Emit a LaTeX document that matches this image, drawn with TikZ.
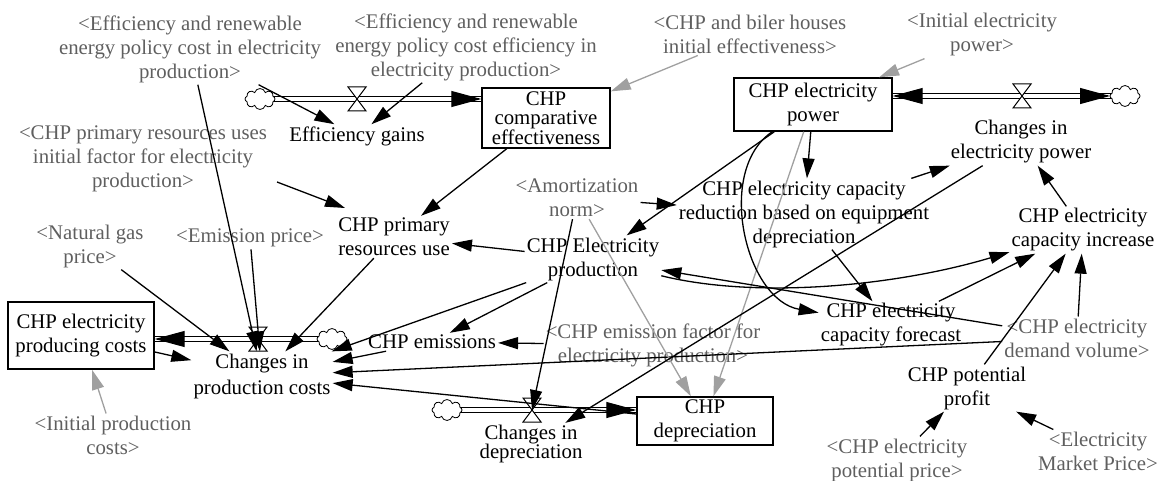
\documentclass[tikz,border=0pt]{standalone}
\usepackage{fontspec}
\setmainfont{Liberation Serif}
\usetikzlibrary{arrows.meta,calc,shapes.symbols}
\definecolor{tgray}{RGB}{95,95,95}
\definecolor{lgray}{RGB}{160,160,160}
\begin{document}
\begin{tikzpicture}[x=1pt,y=-1pt,
  every node/.style={font=\fontsize{20.8}{24}\selectfont, align=center, inner sep=2pt},
  var/.style={text=black},
  shadow/.style={text=tgray},
  stock/.style={draw, line width=1.4pt, inner sep=0pt},
  arr/.style={line width=1.3pt, -{Triangle[length=20pt,width=12pt]}},
  garr/.style={line width=1.3pt, color=lgray, -{Triangle[length=20pt,width=12pt]}},
  pipe/.style={double=white, double distance=4pt, line width=1.3pt},
  pipetip/.style={-{Triangle[length=30pt,width=16pt]}, line width=1pt},
  cloudn/.style={cloud, draw, fill=white, cloud puffs=8, aspect=1.5, minimum width=30pt, minimum height=21pt, inner sep=0pt, line width=0.8pt},
  valve/.pic={\draw[fill=white, line width=1pt] (-9,-12) -- (9,-12) -- (-9,12) -- (9,12) -- cycle;}
]
\useasboundingbox (0,0) rectangle (1166,481);

% shadow variables
\node[shadow] (L1) at (190,49) {<Efficiency and renewable\\energy policy cost in electricity\\production>};
\node[shadow] (L2) at (466,47) {<Efficiency and renewable\\energy policy cost efficiency in\\electricity production>};
\node[shadow] (L3) at (750,34) {<CHP and biler houses\\initial effectiveness>};
\node[shadow] (L4) at (982,35) {<Initial electricity\\power>};
\node[shadow] (L5) at (143,159) {<CHP primary resources uses\\initial factor for electricity\\production>};
\node[shadow] (L6) at (90,246) {<Natural gas\\price>};
\node[shadow] (L7) at (250,238) {<Emission price>};
\node[shadow] (L8) at (577,198) {<Amortization\\norm>};
\node[shadow] (L9) at (653,345) {<CHP emission factor for\\electricity production>};
\node[shadow] (L10) at (1077,338) {<CHP electricity\\demand volume>};
\node[shadow] (L11) at (897,460) {<CHP electricity\\potential price>};
\node[shadow] (L12) at (1098,451) {<Electricity\\Market Price>};
\node[shadow] (L13) at (113,435) {<Initial production\\costs>};

% auxiliaries
\node[var] (effgains) at (357,136) {Efficiency gains};
\node[var] (primres) at (394,237) {CHP primary\\resources use};
\node[var] (elprod) at (593,259) {CHP Electricity\\production};
\node[var] (emiss) at (432,342) {CHP emissions};
\node[var, font=\fontsize{20.8}{26}\selectfont] (chgprod) at (262,376) {Changes in\\production costs};
\node[var, font=\fontsize{20.8}{19}\selectfont] (chgdep) at (531,444) {Changes in\\depreciation};
\node[var] (chgpow) at (1021,142) {Changes in\\electricity power};
\node[var] (reduct) at (804,214) {CHP electricity capacity\\reduction based on equipment\\depreciation};
\node[var] (fcst) at (891,325) {CHP electricity\\capacity forecast};
\node[var] (capinc) at (1083,230) {CHP electricity\\capacity increase};
\node[var] (profit) at (967,388) {CHP potential\\profit};

% stocks
\node[stock, minimum width=128pt, minimum height=60pt, font=\fontsize{20.8}{19}\selectfont] (compeff) at (546,118) {CHP\\comparative\\effectiveness};
\node[stock, minimum width=158pt, minimum height=53pt] (elpow) at (813,104.5) {CHP electricity\\power};
\node[stock, minimum width=146pt, minimum height=67pt] (prodcost) at (81,335.5) {CHP electricity\\producing costs};
\node[stock, minimum width=136pt, minimum height=48pt] (dep) at (705,421) {CHP\\depreciation};

% clouds and valves
\coordinate (c1p) at (260,99);
\coordinate (c2p) at (1125,96);
\coordinate (c3p) at (332,339);
\coordinate (c4p) at (447,410);
\coordinate (v1) at (357,99);
\coordinate (v2) at (1022,96);
\coordinate (v3) at (258,339);
\coordinate (v4) at (532,410);

% pipes
\draw[pipe] (c1p) -- (c1p -| compeff.west);
\draw[pipetip] ($(c1p -| compeff.west)+(-2,0)$) -- (c1p -| compeff.west);
\draw[pipe] (c2p -| elpow.east) -- (c2p);
\draw[pipetip] ($(c2p -| elpow.east)+(2,0)$) -- (c2p -| elpow.east);
\coordinate (c2w) at ($(c2p)+(-15,0)$);
\draw[pipetip] ($(c2w)+(-2,0)$) -- (c2w);
\draw[pipe] (c3p) -- (c3p -| prodcost.east);
\draw[pipetip] ($(c3p -| prodcost.east)+(2,0)$) -- (c3p -| prodcost.east);
\draw[pipe] (c4p) -- (c4p -| dep.west);
\draw[pipetip] ($(c4p -| dep.west)+(-2,0)$) -- (c4p -| dep.west);

\node[cloudn] (c1) at (c1p) {};
\node[cloudn] (c2) at (c2p) {};
\node[cloudn] (c3) at (c3p) {};
\node[cloudn] (c4) at (c4p) {};
\pic at (v1) {valve};
\pic at (v2) {valve};
\pic at (v3) {valve};
\pic at (v4) {valve};

% connectors
\draw[arr] (L1) -- (effgains);
\draw[arr] (L2) -- (effgains);
\draw[garr] (L3) -- (compeff);
\draw[garr] (L4) -- (elpow);
\draw[arr] (L1) -- (chgprod);
\draw[arr] (L7) -- (chgprod);
\draw[arr] (L6) -- (chgprod);
\draw[arr] (prodcost) -- (chgprod);
\draw[arr] (primres) -- (chgprod);
\draw[arr] (elprod) -- (chgprod);
\draw[arr] (emiss) -- (chgprod);
\draw[arr] (L10) -- (chgprod);
\draw[arr] (dep) -- (chgprod);
\draw[garr] (L13) -- (prodcost);
\draw[arr] ($(L5)+(134,23)$) -- ($(primres)+(-49,-29)$);
\draw[arr] (compeff) -- (primres);
\draw[arr] (elprod) -- (primres);
\draw[arr] (elprod) -- (emiss);
\draw[arr] (L9) -- (emiss);
\draw[arr] (elpow) -- (elprod);
\draw[arr] (elpow) -- (reduct);
\draw[arr] (L8) -- (reduct);
\draw[arr] (L8) -- (v4);
\draw[garr] (L8) -- (dep);
\draw[garr] (elpow) -- (dep);
\draw[arr] (reduct) -- (fcst);
\draw[arr] (reduct) -- (chgpow);
\draw[arr] (chgpow) -- (chgdep);
\draw[arr] (capinc) -- (chgpow);
\draw[arr] (fcst) -- (capinc);
\draw[arr] (profit) -- (capinc);
\draw[arr] (L10) -- (capinc);
\draw[arr] (L10) -- (elprod);
\draw[arr] (elprod) .. controls (760,300) and (900,285) .. (capinc);
\draw[arr] (elpow) .. controls (715,170) and (745,300) .. (fcst);
\draw[arr] (L11) -- (profit);
\draw[arr] (L12) -- (profit);
\end{tikzpicture}
\end{document}
